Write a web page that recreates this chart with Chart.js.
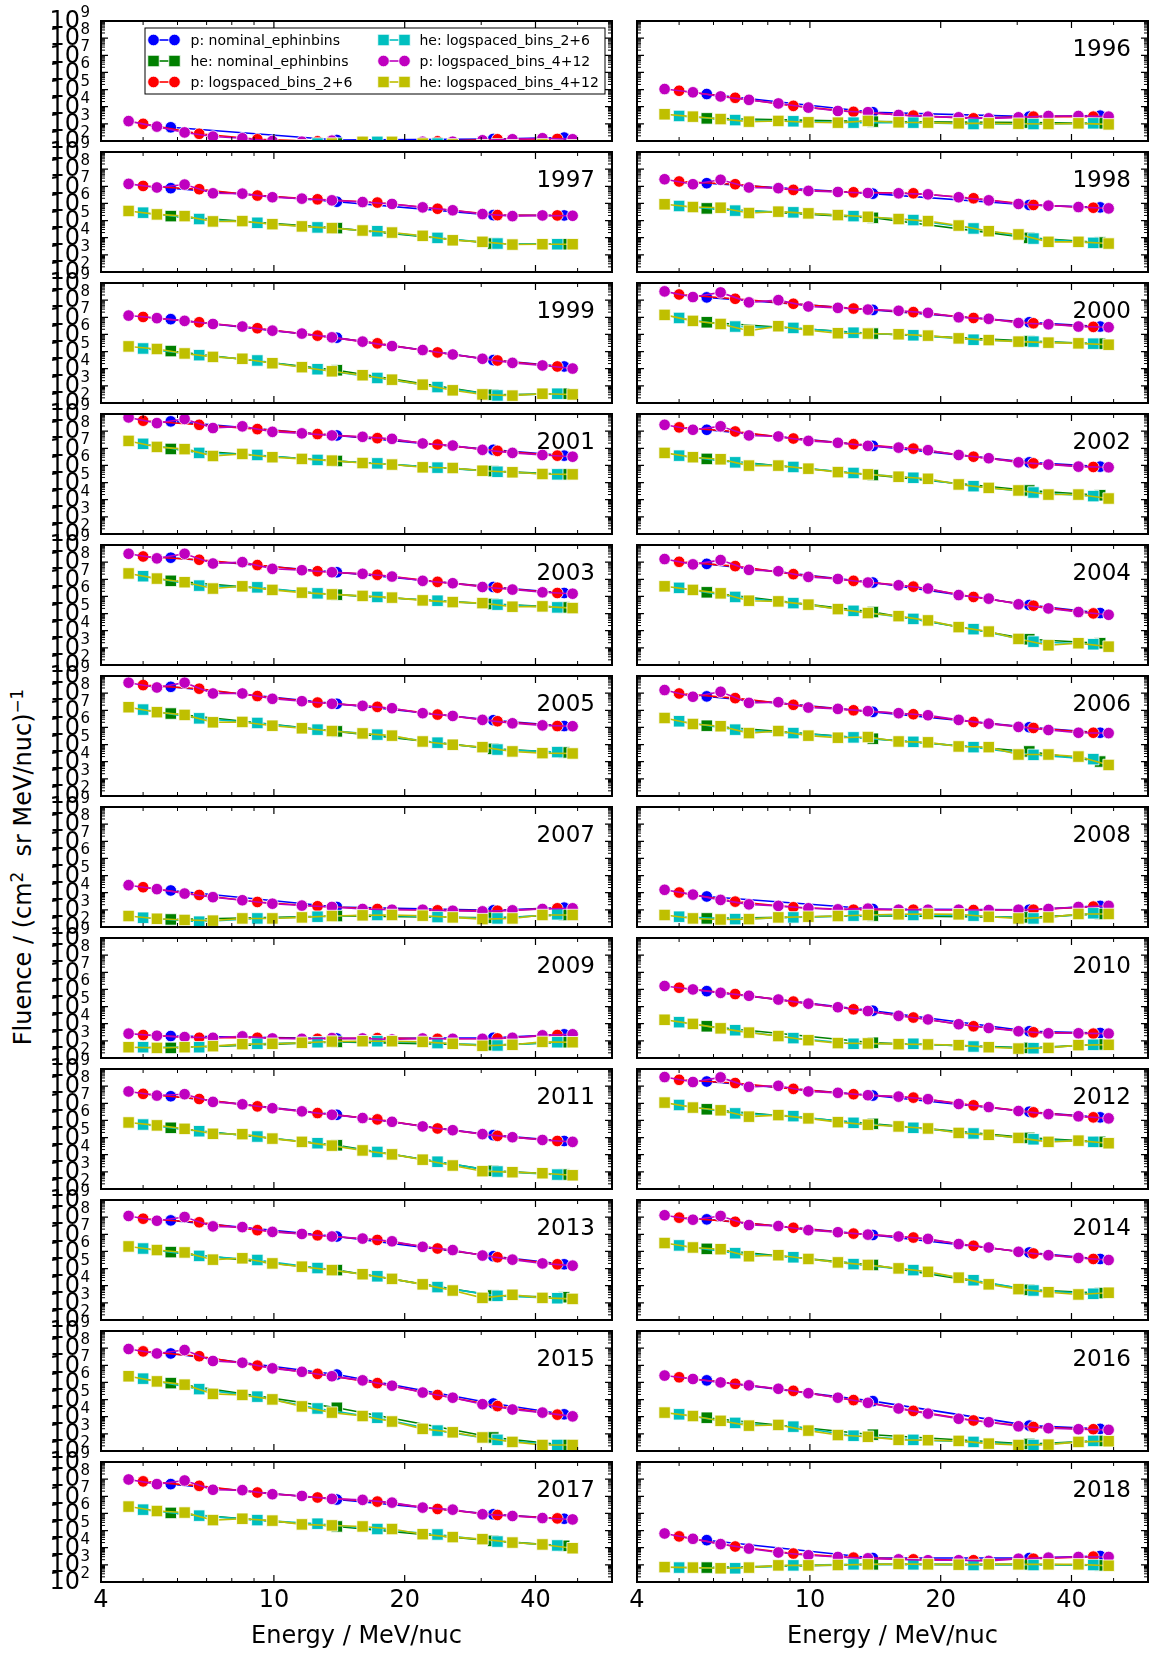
<!DOCTYPE html>
<html><head><meta charset="utf-8">
<script src="https://cdn.jsdelivr.net/npm/chart.js@4.4.1/dist/chart.umd.min.js"></script>
<style>
html,body{margin:0;padding:0;background:#fff;}
#wrap{position:relative;width:1150px;height:1655px;overflow:hidden;font-family:"DejaVu Sans",sans-serif;background:#fff;}
#wrap canvas{position:absolute;}
#ylab{position:absolute;left:23px;top:867px;transform:translate(-50%,-50%) rotate(-90deg);font-size:24px;line-height:1;white-space:nowrap;color:#000;}
#ylab sup{font-size:0.7em;vertical-align:0.5em;line-height:0;}
</style></head>
<body><div id="wrap"><div id="ylab">Fluence / (cm<sup>2</sup>&nbsp; sr MeV/nuc)<sup>−1</sup></div></div>
<script>
// ---------------- data ----------------
const YEARS = [1995,1996,1997,1998,1999,2000,2001,2002,2003,2004,2005,2006,
               2007,2008,2009,2010,2011,2012,2013,2014,2015,2016,2017,2018];
const X_TICK_VALUES = [4, 10, 20, 40];
const X_MINOR_TICKS = [5, 6, 7, 8, 9, 30, 50];
const Y_TICK_EXPONENTS = [2, 3, 4, 5, 6, 7, 8, 9];

// energies (MeV/nuc) of the bin centres
const E_NOMINAL = [5.79, 13.96, 31.98, 46.56];
const E_LOG26 = [5.00, 6.73, 9.16, 12.6, 17.3, 23.8, 32.7, 44.9];
const E_LOG412 = [4.63, 5.38, 6.23, 7.24, 8.46, 9.92, 11.6, 13.6, 16.0, 18.7, 22.0, 25.8, 30.2, 35.4, 41.5, 48.7];

// log10 of fluence, one row per year (1995 ... 2018)
const LOG_P_NOMINAL = [
 [2.80,2.06,2.12,2.20],[4.74,3.68,3.42,3.48],[6.89,6.10,5.32,5.30],[7.18,6.57,5.91,5.77],
 [6.89,5.81,4.50,4.13],[8.16,7.43,6.71,6.46],[8.57,7.75,6.91,6.57],[8.08,7.14,6.18,5.93],
 [8.26,7.41,6.55,6.20],[7.90,6.81,5.50,5.03],[8.37,7.38,6.42,6.08],[7.81,6.91,6.01,5.69],
 [4.13,3.17,2.97,3.13],[3.78,3.05,3.01,3.23],[3.28,3.14,3.18,3.38],[5.90,4.76,3.56,3.46],
 [7.41,6.33,5.14,4.80],[8.27,7.45,6.51,6.18],[7.81,6.87,5.72,5.25],[7.87,6.96,5.94,5.56],
 [7.69,6.46,4.77,4.14],[6.12,4.91,3.48,3.29],[7.71,6.81,5.95,5.69],[4.44,3.40,3.40,3.52]
];
const LOG_HE_NOMINAL = [
 [1.55,1.85,1.75,1.70],[3.32,3.13,3.07,3.03],[5.26,4.56,3.66,3.62],[5.71,5.16,3.99,3.72],
 [5.03,3.91,2.48,2.54],[6.71,6.05,5.61,5.46],[6.96,6.26,5.67,5.48],[6.38,5.44,4.54,4.26],
 [6.91,6.10,5.56,5.36],[6.24,5.09,3.50,3.27],[6.81,5.77,4.75,4.54],[6.10,5.34,4.60,4.01],
 [2.44,2.64,2.54,2.70],[2.50,2.66,2.56,2.76],[2.59,2.94,2.75,2.92],[3.85,2.89,2.59,2.79],
 [5.57,4.55,3.06,2.84],[6.65,5.80,4.98,4.75],[5.96,4.91,3.43,3.33],[6.15,5.21,3.76,3.57],
 [5.96,4.52,2.79,2.35],[3.94,2.95,2.41,2.59],[6.03,5.24,4.40,4.11],[2.84,3.03,3.03,2.97]
];
const LOG_P_LOG26 = [
 [3.00,2.42,2.10,1.98,1.94,1.98,2.10,2.12],[4.93,4.52,4.05,3.70,3.48,3.32,3.42,3.42],
 [7.02,6.83,6.46,6.24,6.05,5.69,5.32,5.30],[7.28,7.12,6.79,6.65,6.59,6.30,5.91,5.75],
 [7.02,6.71,6.36,5.93,5.48,4.95,4.48,4.13],[8.33,8.08,7.79,7.51,7.30,6.96,6.65,6.44],
 [8.61,8.37,8.12,7.83,7.59,7.22,6.85,6.57],[8.22,7.98,7.57,7.24,6.98,6.51,6.12,5.91],
 [8.33,8.14,7.83,7.47,7.26,6.85,6.51,6.20],[8.02,7.77,7.30,6.91,6.57,5.97,5.46,5.01],
 [8.47,8.26,7.83,7.45,7.20,6.75,6.36,6.08],[7.98,7.71,7.32,7.00,6.77,6.32,5.97,5.69],
 [4.32,3.87,3.46,3.21,3.05,2.97,2.95,3.09],[4.01,3.48,3.15,3.01,3.01,2.99,3.01,3.19],
 [3.34,3.18,3.18,3.12,3.16,3.12,3.14,3.34],[6.10,5.73,5.29,4.84,4.36,3.85,3.50,3.42],
 [7.55,7.25,6.82,6.43,6.06,5.53,5.10,4.80],[8.37,8.18,7.84,7.53,7.33,6.88,6.47,6.18],
 [7.91,7.70,7.24,6.94,6.67,6.17,5.66,5.25],[7.97,7.73,7.38,7.04,6.81,6.33,5.88,5.56],
 [7.81,7.53,6.98,6.50,5.96,5.27,4.62,4.12],[6.30,5.92,5.51,4.97,4.34,3.78,3.40,3.27],
 [7.87,7.61,7.22,6.93,6.69,6.26,5.91,5.71],[4.66,4.07,3.66,3.42,3.32,3.27,3.36,3.48]
];
const LOG_HE_LOG26 = [
 [1.50,1.60,1.70,1.85,1.95,1.85,1.80,1.75],[3.46,3.22,3.15,3.07,3.07,2.99,2.99,3.03],
 [5.46,5.09,4.87,4.60,4.38,3.99,3.66,3.62],[5.85,5.58,5.48,5.26,5.03,4.54,3.95,3.70],
 [5.18,4.79,4.48,3.97,3.46,2.93,2.44,2.54],[6.96,6.46,6.38,6.10,5.95,5.69,5.58,5.46],
 [7.26,6.73,6.61,6.32,6.12,5.87,5.63,5.48],[6.57,6.18,5.91,5.56,5.28,4.79,4.42,4.21],
 [7.18,6.63,6.53,6.18,5.97,5.75,5.52,5.36],[6.50,5.97,5.61,5.16,4.69,4.09,3.36,3.21],
 [7.04,6.53,6.26,5.87,5.58,5.11,4.71,4.56],[6.36,5.87,5.67,5.42,5.16,4.85,4.40,4.15],
 [2.54,2.31,2.50,2.60,2.70,2.58,2.50,2.74],[2.60,2.46,2.56,2.66,2.70,2.66,2.50,2.80],
 [2.63,2.63,2.83,2.92,2.98,2.87,2.73,2.92],[4.09,3.62,3.16,2.83,2.83,2.67,2.57,2.77],
 [5.76,5.37,5.06,4.67,4.16,3.59,3.02,2.84],[6.90,6.41,6.25,5.86,5.57,5.24,4.90,4.75],
 [6.17,5.74,5.50,5.03,4.55,3.92,3.41,3.27],[6.35,5.90,5.66,5.26,4.91,4.32,3.72,3.53],
 [6.22,5.61,5.17,4.48,3.94,3.19,2.65,2.35],[4.14,3.64,3.42,2.89,2.65,2.53,2.35,2.59],
 [6.22,5.87,5.61,5.40,5.09,4.77,4.36,4.13],[2.84,2.80,2.97,3.03,3.03,2.99,2.99,2.99]
];
const LOG_P_LOG412 = [
 [3.16,2.84,2.50,2.26,2.16,2.00,1.96,2.02,1.96,1.92,1.96,1.96,2.04,2.10,2.16,2.10],
 [5.03,4.84,4.60,4.40,4.19,3.95,3.75,3.68,3.52,3.42,3.38,3.32,3.38,3.46,3.46,3.42],
 [7.14,6.93,7.10,6.59,6.57,6.36,6.28,6.18,6.08,5.97,5.77,5.60,5.38,5.26,5.30,5.28],
 [7.41,7.12,7.38,6.93,6.89,6.73,6.67,6.61,6.59,6.53,6.36,6.18,5.97,5.87,5.79,5.71],
 [7.10,6.95,6.79,6.61,6.46,6.22,6.05,5.83,5.58,5.32,5.09,4.83,4.58,4.34,4.19,4.01],
 [8.51,8.18,8.45,7.87,8.00,7.63,7.55,7.45,7.38,7.26,7.00,6.91,6.67,6.59,6.46,6.42],
 [8.80,8.47,8.71,8.18,8.28,7.96,7.87,7.75,7.67,7.55,7.28,7.16,6.91,6.73,6.61,6.51],
 [8.37,8.08,8.28,7.75,7.69,7.43,7.32,7.14,7.04,6.89,6.61,6.42,6.18,6.05,5.93,5.89],
 [8.49,8.22,8.49,7.92,8.00,7.61,7.53,7.41,7.32,7.16,6.91,6.77,6.55,6.40,6.24,6.16],
 [8.18,7.87,8.12,7.55,7.47,7.14,7.02,6.81,6.65,6.46,6.08,5.87,5.54,5.30,5.09,4.93],
 [8.61,8.33,8.61,7.98,7.98,7.67,7.53,7.38,7.26,7.12,6.83,6.67,6.44,6.24,6.12,6.07],
 [8.18,7.79,8.08,7.43,7.47,7.16,7.08,6.95,6.83,6.71,6.44,6.22,6.03,5.85,5.69,5.67],
 [4.44,4.21,3.95,3.74,3.56,3.36,3.25,3.17,3.05,3.01,3.01,2.95,2.91,2.97,3.05,3.09],
 [4.17,3.89,3.58,3.32,3.23,3.09,3.03,3.07,3.01,3.01,3.01,2.99,3.01,3.05,3.17,3.23],
 [3.42,3.30,3.22,3.18,3.26,3.14,3.12,3.16,3.14,3.08,3.14,3.12,3.12,3.18,3.32,3.38],
 [6.20,6.00,5.80,5.63,5.41,5.17,4.96,4.74,4.46,4.25,3.97,3.75,3.56,3.44,3.44,3.42],
 [7.69,7.45,7.53,7.08,6.94,6.71,6.53,6.33,6.14,5.92,5.65,5.43,5.20,5.02,4.86,4.75],
 [8.53,8.24,8.51,7.96,8.02,7.69,7.61,7.47,7.39,7.24,6.96,6.78,6.55,6.37,6.24,6.12],
 [8.07,7.79,8.01,7.46,7.42,7.14,7.02,6.87,6.75,6.59,6.27,6.08,5.76,5.52,5.30,5.17],
 [8.11,7.85,8.07,7.54,7.48,7.24,7.12,6.98,6.87,6.73,6.43,6.23,5.98,5.78,5.62,5.50],
 [7.95,7.69,7.89,7.25,7.15,6.82,6.62,6.36,6.12,5.81,5.41,5.11,4.73,4.42,4.24,4.02],
 [6.40,6.20,6.00,5.83,5.63,5.37,5.11,4.81,4.48,4.18,3.88,3.68,3.44,3.33,3.27,3.23],
 [7.98,7.71,7.92,7.38,7.36,7.12,7.02,6.85,6.79,6.63,6.34,6.22,5.95,5.85,5.73,5.65],
 [4.83,4.52,4.21,3.95,3.72,3.56,3.46,3.38,3.32,3.27,3.27,3.23,3.36,3.42,3.46,3.46]
];
const LOG_HE_LOG412 = [
 [1.40,1.45,1.50,1.55,1.60,1.70,1.75,1.85,1.95,1.95,1.85,1.80,1.75,1.75,1.80,1.75],
 [3.56,3.42,3.28,3.13,3.17,3.09,3.07,3.17,3.09,3.07,3.03,3.03,3.01,2.99,3.03,2.97],
 [5.56,5.36,5.26,4.95,4.97,4.79,4.66,4.56,4.42,4.30,4.11,3.85,3.76,3.60,3.62,3.62],
 [5.95,5.79,5.75,5.44,5.52,5.42,5.32,5.22,5.09,4.97,4.71,4.38,4.19,3.76,3.76,3.66],
 [5.30,5.15,4.89,4.69,4.58,4.32,4.09,3.85,3.62,3.36,3.07,2.74,2.50,2.43,2.54,2.50],
 [7.14,6.79,6.61,6.22,6.48,6.24,6.07,6.05,6.01,5.93,5.77,5.67,5.58,5.52,5.48,5.40],
 [7.43,7.08,6.95,6.55,6.67,6.48,6.38,6.28,6.14,6.05,5.89,5.85,5.69,5.60,5.50,5.48],
 [6.73,6.48,6.36,5.99,5.99,5.81,5.61,5.48,5.34,5.22,4.89,4.69,4.54,4.30,4.30,4.07],
 [7.34,7.04,6.83,6.46,6.59,6.38,6.22,6.12,6.03,5.93,5.77,5.67,5.61,5.40,5.42,5.32],
 [6.59,6.38,6.18,5.75,5.71,5.52,5.26,5.03,4.85,4.60,4.21,3.95,3.52,3.15,3.27,3.07],
 [7.18,6.89,6.73,6.30,6.32,6.10,5.95,5.79,5.65,5.52,5.18,4.99,4.85,4.60,4.50,4.48],
 [6.55,6.20,6.07,5.67,5.79,5.52,5.40,5.44,5.18,5.13,4.89,4.85,4.42,4.42,4.30,3.81],
 [2.64,2.48,2.41,2.37,2.50,2.50,2.56,2.64,2.68,2.70,2.66,2.56,2.46,2.50,2.70,2.70],
 [2.70,2.50,2.44,2.46,2.56,2.60,2.64,2.70,2.74,2.76,2.74,2.60,2.50,2.56,2.76,2.76],
 [2.63,2.59,2.63,2.69,2.81,2.83,2.89,2.96,2.98,2.98,2.94,2.83,2.71,2.77,2.94,2.92],
 [4.23,3.99,3.73,3.48,3.28,3.04,2.87,2.85,2.81,2.79,2.75,2.63,2.55,2.59,2.75,2.77],
 [5.88,5.71,5.51,5.22,5.20,4.94,4.75,4.53,4.25,4.02,3.71,3.37,3.04,2.98,2.92,2.80],
 [7.04,6.75,6.59,6.22,6.31,6.12,5.90,5.75,5.65,5.53,5.27,5.16,4.98,4.75,4.82,4.67],
 [6.29,6.08,5.94,5.52,5.60,5.30,5.11,4.91,4.67,4.40,4.08,3.72,3.29,3.47,3.29,3.23],
 [6.49,6.23,6.13,5.72,5.78,5.56,5.36,5.21,5.01,4.81,4.47,4.08,3.80,3.62,3.49,3.59],
 [6.36,6.06,5.87,5.33,5.27,5.01,4.60,4.24,4.04,3.72,3.29,3.09,2.79,2.53,2.35,2.35],
 [4.24,4.04,3.76,3.48,3.52,3.19,2.93,2.83,2.65,2.63,2.59,2.43,2.35,2.37,2.53,2.57],
 [6.40,6.14,6.05,5.61,5.69,5.58,5.36,5.30,5.24,5.09,4.79,4.62,4.50,4.30,4.19,3.97],
 [2.87,2.84,2.80,2.84,2.97,2.97,2.99,3.03,3.05,3.03,3.01,3.03,3.03,3.03,3.03,2.95]
];

const SERIES = [
  {label:'p: nominal_ephinbins',   color:'#0000ff', marker:'circle', energies:E_NOMINAL, logs:LOG_P_NOMINAL},
  {label:'he: nominal_ephinbins',  color:'#008000', marker:'rect',   energies:E_NOMINAL, logs:LOG_HE_NOMINAL},
  {label:'p: logspaced_bins_2+6',  color:'#ff0000', marker:'circle', energies:E_LOG26,   logs:LOG_P_LOG26},
  {label:'he: logspaced_bins_2+6', color:'#00bfbf', marker:'rect',   energies:E_LOG26,   logs:LOG_HE_LOG26},
  {label:'p: logspaced_bins_4+12', color:'#bf00bf', marker:'circle', energies:E_LOG412,  logs:LOG_P_LOG412},
  {label:'he: logspaced_bins_4+12',color:'#bfbf00', marker:'rect',   energies:E_LOG412,  logs:LOG_HE_LOG412}
];

// ---------------- layout ----------------
const ROW_TOP0 = 21, ROW_PITCH = 131, PANEL_H = 120, PANEL_W = 511;
const COL_X = [101, 637];
const PAD_TOP = 24, PAD_BOTTOM = 14, AXIS_W = 101, PAD_RIGHT = 2, PAGE_H = 1655;
const FONT = '"DejaVu Sans", "Liberation Sans", sans-serif';
const CIRCLE_R = 5.8, RECT_R = 8.1;
Chart.defaults.font.family = FONT;

function drawMarker(ctx, style, x, y, color) {
  ctx.fillStyle = color; ctx.strokeStyle = '#fff'; ctx.lineWidth = 0.8;
  ctx.beginPath();
  if (style === 'circle') ctx.arc(x, y, CIRCLE_R, 0, Math.PI * 2);
  else { const s = RECT_R * Math.SQRT1_2; ctx.rect(x - s, y - s, 2 * s, 2 * s); }
  ctx.fill(); ctx.stroke();
}

const panelDecor = {
  id: 'panelDecor',
  afterDatasetsDraw(chart, args, o) {
    const ctx = chart.ctx, a = chart.chartArea, xs = chart.scales.x, ys = chart.scales.y;
    ctx.save();
    ctx.strokeStyle = '#000';
    const hTick = (py, len, w) => {
      ctx.lineWidth = w; ctx.beginPath();
      ctx.moveTo(a.left, py); ctx.lineTo(a.left + len, py);
      ctx.moveTo(a.right, py); ctx.lineTo(a.right - len, py);
      ctx.stroke();
    };
    const vTick = (px, len, w) => {
      ctx.lineWidth = w; ctx.beginPath();
      ctx.moveTo(px, a.bottom); ctx.lineTo(px, a.bottom - len);
      ctx.moveTo(px, a.top); ctx.lineTo(px, a.top + len);
      ctx.stroke();
    };
    for (let k = 2; k < 9; k++) for (let m = 2; m <= 9; m++) hTick(ys.getPixelForValue(m * Math.pow(10, k)), 4, 1);
    Y_TICK_EXPONENTS.forEach(e => hTick(ys.getPixelForValue(Math.pow(10, e)), 7, 1.2));
    X_MINOR_TICKS.forEach(v => vTick(xs.getPixelForValue(v), 4, 1));
    X_TICK_VALUES.forEach(v => vTick(xs.getPixelForValue(v), 7, 1.2));
    ctx.lineWidth = 2;
    ctx.strokeRect(a.left, a.top, a.right - a.left, a.bottom - a.top);

    ctx.fillStyle = '#000';
    if (o.yLabels) {
      ctx.textBaseline = 'alphabetic';
      Y_TICK_EXPONENTS.forEach(e => {
        const py = ys.getPixelForValue(Math.pow(10, e));
        ctx.font = '24px ' + FONT; ctx.textAlign = 'right';
        ctx.fillText('10', a.left - 21, py + 7.3);
        ctx.font = '15px ' + FONT; ctx.textAlign = 'left';
        ctx.fillText(String(e), a.left - 20.5, py - 4);
      });
    }
    if (o.year) {
      ctx.font = '23px ' + FONT; ctx.textAlign = 'right'; ctx.textBaseline = 'alphabetic';
      ctx.fillStyle = '#000';
      ctx.fillText(o.year, a.right - 17, a.top + 34.5);
    }
    if (o.legend) {
      const bw = 460, bh = 66, bx = a.right - 7 - bw, by = a.top + 7;
      ctx.fillStyle = '#fff'; ctx.fillRect(bx, by, bw, bh);
      ctx.strokeStyle = '#000'; ctx.lineWidth = 1; ctx.strokeRect(bx, by, bw, bh);
      SERIES.forEach((s, i) => {
        const c = Math.floor(i / 3), r = i % 3;
        const m1 = bx + (c ? 238.5 : 8.5), m2 = m1 + 21, cy = by + 12 + 21 * r;
        ctx.strokeStyle = s.color; ctx.lineWidth = 1.6;
        ctx.beginPath(); ctx.moveTo(m1, cy); ctx.lineTo(m2, cy); ctx.stroke();
        drawMarker(ctx, s.marker, m1, cy, s.color);
        drawMarker(ctx, s.marker, m2, cy, s.color);
        ctx.fillStyle = '#000'; ctx.font = '14px ' + FONT;
        ctx.textAlign = 'left'; ctx.textBaseline = 'middle';
        ctx.fillText(s.label, bx + (c ? 274.5 : 45.5), cy + 1);
      });
    }
    ctx.restore();
  }
};

const wrap = document.getElementById('wrap');
YEARS.forEach((year, idx) => {
  const col = idx % 2, row = Math.floor(idx / 2);
  const lastRow = row === Math.floor((YEARS.length - 1) / 2);
  const panelTop = ROW_TOP0 + ROW_PITCH * row;
  const cTop = panelTop - PAD_TOP;
  const cLeft = COL_X[col] - AXIS_W;
  const cW = AXIS_W + PANEL_W + PAD_RIGHT;
  const xAxisH = PAGE_H - (panelTop + PANEL_H);
  const cH = lastRow ? PAGE_H - cTop : PAD_TOP + PANEL_H + PAD_BOTTOM;
  const cv = document.createElement('canvas');
  cv.width = cW; cv.height = cH;
  cv.style.left = cLeft + 'px'; cv.style.top = cTop + 'px';
  cv.style.width = cW + 'px'; cv.style.height = cH + 'px';
  wrap.appendChild(cv);

  const datasets = SERIES.map((s, k) => ({
    label: s.label,
    data: s.energies.map((e, i) => ({x: e, y: Math.pow(10, s.logs[idx][i])})),
    borderColor: s.color, backgroundColor: s.color, borderWidth: 1.6,
    pointStyle: s.marker, pointRadius: s.marker === 'rect' ? RECT_R : CIRCLE_R,
    pointBackgroundColor: s.color, pointBorderColor: '#ffffff', pointBorderWidth: 0.8,
    pointHoverRadius: 0, tension: 0, fill: false,
    order: SERIES.length - 1 - k
  }));

  const xScale = {
    type: 'logarithmic', min: 4, max: 60, display: lastRow,
    grid: {display: false, drawTicks: false}, border: {display: false},
    afterBuildTicks: s => { s.ticks = X_TICK_VALUES.map(v => ({value: v})); },
    ticks: {autoSkip: false, maxRotation: 0, minRotation: 0, padding: 4, color: '#000',
            font: {size: 24, family: FONT}, callback: v => String(v)},
    title: {display: true, text: 'Energy / MeV/nuc', color: '#000',
            font: {size: 24, family: FONT}, padding: {top: 0, bottom: 4}}
  };
  if (lastRow) xScale.afterFit = s => { s.height = xAxisH; };

  new Chart(cv, {
    type: 'line',
    data: {datasets},
    options: {
      responsive: false, maintainAspectRatio: false, animation: false, devicePixelRatio: 1, events: [],
      layout: {autoPadding: false,
               padding: {left: AXIS_W, right: PAD_RIGHT, top: PAD_TOP, bottom: lastRow ? 0 : PAD_BOTTOM}},
      plugins: {
        legend: {display: false}, tooltip: {enabled: false}, title: {display: false},
        panelDecor: {year: idx === 0 ? null : String(year), yLabels: col === 0, legend: idx === 0}
      },
      scales: {
        x: xScale,
        y: {type: 'logarithmic', min: 100, max: 1e9, display: false}
      }
    },
    plugins: [panelDecor]
  });
});
</script></body></html>
